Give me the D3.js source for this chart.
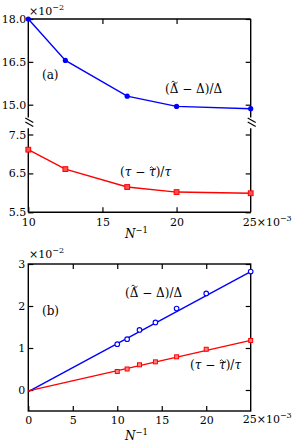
<!DOCTYPE html>
<meta charset="utf-8">
<style>
  body { margin: 0; background: #fff; }
  svg { display: block; }
  text { font-family: "DejaVu Serif", "Liberation Serif", serif; fill: #000; }
  .axis text { font-size: 11px; font-family: "DejaVu Serif", serif; }
  .axis line { stroke: #000; stroke-width: 1.2; }
  .frame { stroke: #000; stroke-width: 1.4; fill: none; }
</style>
<script src="https://d3js.org/d3.v7.min.js"></script>
<div id="chart"></div>
<script>
  // ---- data ----
  // panel (a): N^-1 (x10^-3) vs relative errors (x10^-2)
  const xA = [10, 12.5, 16.67, 20, 25];
  const deltaA = [18.0, 16.55, 15.3, 14.94, 14.86];
  const tauA = [7.11, 6.61, 6.15, 6.02, 5.99];
  const upTicksA = [18.0, 16.5, 15.0];
  const loTicksA = [7.5, 6.5, 5.5];
  const xTicksA = [10, 15, 20];

  // panel (b)
  const xB = [10, 11.11, 12.5, 14.29, 16.67, 20, 25];
  const deltaB = [1.09, 1.21, 1.43, 1.61, 1.94, 2.30, 2.82];
  const tauB = [0.44, 0.50, 0.60, 0.67, 0.79, 0.97, 1.18];
  const fitX = [0, 25];
  const deltaFit = [-0.04, 2.82];
  const tauFit = [-0.02, 1.18];
  const yTicksB = [0, 1, 2, 3];
  const xTicksB = [0, 5, 10, 15, 20];

  const W = 294, H = 442;
  const svg = d3.select("#chart").append("svg")
      .attr("width", W).attr("height", H);

  const blue = "#0000ff", red = "#ff0000";
  const L = 28.3, R = 250.7;

  // ===== panel (a) =====
  const xa = d3.scaleLinear().domain([10, 25]).range([L, R]);
  const yUp = d3.scaleLinear().domain([15, 18]).range([104.7, 19]);
  const yLo = d3.scaleLinear().domain([5.5, 7.5]).range([212.3, 134.5]);
  const upBreak = 14.55, loBreak = 7.66;

  const ga = svg.append("g");

  // frame pieces
  ga.append("line").attr("class", "frame")
    .attr("x1", L).attr("x2", R).attr("y1", yUp(18)).attr("y2", yUp(18));
  ga.append("line").attr("class", "frame")
    .attr("x1", L).attr("x2", R).attr("y1", yLo(5.5)).attr("y2", yLo(5.5));
  [L, R].forEach(x => {
    ga.append("line").attr("class", "frame")
      .attr("x1", x).attr("x2", x).attr("y1", yUp(18)).attr("y2", yUp(upBreak));
    ga.append("line").attr("class", "frame")
      .attr("x1", x).attr("x2", x).attr("y1", yLo(loBreak)).attr("y2", yLo(5.5));
    // break marks
    const yb = (yUp(upBreak) + yLo(loBreak)) / 2;
    [-2, 2].forEach(o => {
      ga.append("line").attr("class", "frame").style("stroke-width", 1.1)
        .attr("x1", x - 3).attr("y1", yb + o - 3)
        .attr("x2", x + 5).attr("y2", yb + o + 1.5);
    });
  });

  // axes
  function strip(g) { g.select(".domain").remove(); }
  ga.append("g").attr("class", "axis").attr("transform", `translate(${L},0)`)
    .call(d3.axisLeft(yUp).tickValues(upTicksA).tickFormat(d3.format(".1f"))
      .tickSizeInner(-5).tickSizeOuter(0).tickPadding(2)).call(strip);
  ga.append("g").attr("class", "axis").attr("transform", `translate(${L},0)`)
    .call(d3.axisLeft(yLo).tickValues(loTicksA).tickFormat(d3.format(".1f"))
      .tickSizeInner(-5).tickSizeOuter(0).tickPadding(2)).call(strip);
  ga.append("g").attr("class", "axis").attr("transform", `translate(${R},0)`)
    .call(d3.axisRight(yUp).tickValues(upTicksA).tickFormat("")
      .tickSizeInner(-5).tickSizeOuter(0)).call(strip);
  ga.append("g").attr("class", "axis").attr("transform", `translate(${R},0)`)
    .call(d3.axisRight(yLo).tickValues(loTicksA).tickFormat("")
      .tickSizeInner(-5).tickSizeOuter(0)).call(strip);
  ga.append("g").attr("class", "axis").attr("transform", `translate(0,${yLo(5.5)})`)
    .call(d3.axisBottom(xa).tickValues(xTicksA).tickFormat(d3.format("d"))
      .tickSizeInner(-5).tickSizeOuter(0).tickPadding(6)).call(strip);
  ga.append("g").attr("class", "axis").attr("transform", `translate(0,${yUp(18)})`)
    .call(d3.axisTop(xa).tickValues([15, 20]).tickFormat("")
      .tickSizeInner(-5).tickSizeOuter(0)).call(strip);

  // data
  const lineUp = d3.line().x((d, i) => xa(xA[i])).y(d => yUp(d));
  const lineLo = d3.line().x((d, i) => xa(xA[i])).y(d => yLo(d));
  ga.append("path").datum(deltaA).attr("d", lineUp)
    .attr("fill", "none").attr("stroke", blue).attr("stroke-width", 1.4);
  ga.selectAll(".pa").data(deltaA).join("circle")
    .attr("cx", (d, i) => xa(xA[i])).attr("cy", d => yUp(d)).attr("r", 2.6)
    .attr("fill", blue);
  ga.append("path").datum(tauA).attr("d", lineLo)
    .attr("fill", "none").attr("stroke", red).attr("stroke-width", 1.4);
  ga.selectAll(".sa").data(tauA).join("rect")
    .attr("x", (d, i) => xa(xA[i]) - 2.4).attr("y", d => yLo(d) - 2.4)
    .attr("width", 4.8).attr("height", 4.8)
    .attr("fill", "#ff5050").attr("stroke", red).attr("stroke-width", 1);

  // ===== panel (b) =====
  const xb = d3.scaleLinear().domain([0, 25]).range([L, R]);
  const yb = d3.scaleLinear().domain([-0.5, 3]).range([411, 264]);
  const gb = svg.append("g");

  gb.append("rect").attr("class", "frame")
    .attr("x", L).attr("y", yb(3)).attr("width", R - L).attr("height", yb(-0.5) - yb(3));
  gb.append("g").attr("class", "axis").attr("transform", `translate(${L},0)`)
    .call(d3.axisLeft(yb).tickValues(yTicksB).tickFormat(d3.format("d"))
      .tickSizeInner(-5).tickSizeOuter(0).tickPadding(3)).call(strip);
  gb.append("g").attr("class", "axis").attr("transform", `translate(${R},0)`)
    .call(d3.axisRight(yb).tickValues(yTicksB).tickFormat("")
      .tickSizeInner(-5).tickSizeOuter(0)).call(strip);
  gb.append("g").attr("class", "axis").attr("transform", `translate(0,${yb(-0.5)})`)
    .call(d3.axisBottom(xb).tickValues(xTicksB).tickFormat(d3.format("d"))
      .tickSizeInner(-5).tickSizeOuter(0).tickPadding(5)).call(strip);
  gb.append("g").attr("class", "axis").attr("transform", `translate(0,${yb(3)})`)
    .call(d3.axisTop(xb).tickValues([5, 10, 15, 20]).tickFormat("")
      .tickSizeInner(-5).tickSizeOuter(0)).call(strip);

  const fitLine = d3.line().x((d, i) => xb(fitX[i])).y(d => yb(d));
  gb.append("path").datum(deltaFit).attr("d", fitLine)
    .attr("fill", "none").attr("stroke", blue).attr("stroke-width", 1.4);
  gb.append("path").datum(tauFit).attr("d", fitLine)
    .attr("fill", "none").attr("stroke", red).attr("stroke-width", 1.4);
  gb.selectAll(".pb").data(deltaB).join("circle")
    .attr("cx", (d, i) => xb(xB[i])).attr("cy", d => yb(d)).attr("r", 2.3)
    .attr("fill", "#fff").attr("stroke", blue).attr("stroke-width", 1.1);
  gb.selectAll(".sb").data(tauB).join("rect")
    .attr("x", (d, i) => xb(xB[i]) - 2).attr("y", d => yb(d) - 2)
    .attr("width", 4).attr("height", 4)
    .attr("fill", "#ff8080").attr("stroke", red).attr("stroke-width", 1);

  // ===== texts =====
  function sci(x, y, base, exp, anchor) {
    const t = svg.append("text").attr("x", x).attr("y", y)
      .attr("font-size", 11).attr("text-anchor", anchor || "start");
    t.append("tspan").text(base);
    t.append("tspan").attr("dy", -5).attr("font-size", 8).text(exp);
    return t;
  }
  sci(29, 15, "×10", "−2");
  sci(29, 258, "×10", "−2");
  sci(xa(25) - 8, 226, "25×10", "−3");
  sci(xb(25) - 8, 423, "25×10", "−3");

  function nInv(x, y) {
    const t = svg.append("text").attr("x", x).attr("y", y).attr("font-size", 12);
    t.append("tspan").attr("font-style", "italic").text("N");
    t.append("tspan").attr("dy", -5).attr("font-size", 8.5).text("−1");
  }
  nInv(125, 238);
  nInv(125, 440);

  svg.append("text").attr("x", 42).attr("y", 79).attr("font-size", 12).text("(a)");
  svg.append("text").attr("x", 42).attr("y", 315).attr("font-size", 12).text("(b)");

  // draw a small tilde accent over character k of a text element
  function tilde(t, k, lift) {
    const box = t.node().getExtentOfChar(k);
    const cx = box.x + box.width / 2 + 0.5, cy = box.y + lift;
    svg.append("path")
      .attr("d", `M${cx - 3},${cy + 1} q1.5,-2.4 3,0 t3,0`)
      .attr("fill", "none").attr("stroke", "#000").attr("stroke-width", 0.8);
  }
  function deltaLabel(x, y) {
    const t = svg.append("text").attr("x", x).attr("y", y).attr("font-size", 12)
      .text("(Δ − Δ)/Δ");
    tilde(t, 1, -0.8);
  }
  function tauLabel(x, y) {
    const t = svg.append("text").attr("x", x).attr("y", y).attr("font-size", 12);
    t.append("tspan").text("(");
    t.append("tspan").attr("font-style", "italic").text("τ");
    t.append("tspan").text(" − ");
    t.append("tspan").attr("font-style", "italic").text("τ");
    t.append("tspan").text(")/");
    t.append("tspan").attr("font-style", "italic").text("τ");
    tilde(t, 5, 2);
  }
  deltaLabel(165, 93);
  tauLabel(120, 176);
  deltaLabel(125, 297);
  tauLabel(190, 369);
</script>
